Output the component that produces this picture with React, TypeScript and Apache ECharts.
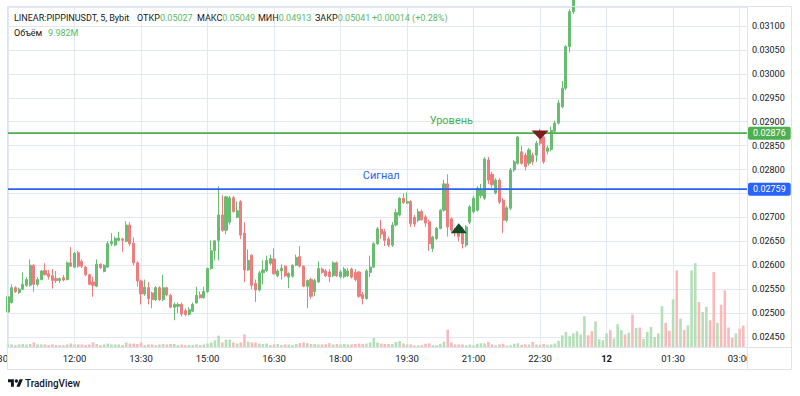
import React, { useEffect, useRef } from "react";
import * as echarts from "echarts";

// ---- data (5-minute candles from 10:30) ----
const opens = [
  0.02502, 0.02522, 0.02553, 0.02543, 0.02550, 0.02558, 0.02558, 0.02600, 0.02560, 0.02570,
  0.02589, 0.02582, 0.02578, 0.02572, 0.02568, 0.02574, 0.02570, 0.02605, 0.02596, 0.02626,
  0.02608, 0.02596, 0.02580, 0.02565, 0.02556, 0.02602, 0.02587, 0.02596, 0.02645, 0.02642,
  0.02652, 0.02655, 0.02650, 0.02684, 0.02646, 0.02605, 0.02567, 0.02540, 0.02553, 0.02542,
  0.02528, 0.02553, 0.02528, 0.02553, 0.02537, 0.02512, 0.02514, 0.02518, 0.02505, 0.02497,
  0.02504, 0.02521, 0.02538, 0.02532, 0.02545, 0.02593, 0.02630, 0.02652, 0.02705, 0.02673,
  0.02690, 0.02741, 0.02700, 0.02733, 0.02667, 0.02590, 0.02621, 0.02562, 0.02548, 0.02584,
  0.02589, 0.02604, 0.02613, 0.02578, 0.02588, 0.02598, 0.02575, 0.02577, 0.02600, 0.02618,
  0.02598, 0.02556, 0.02570, 0.02545, 0.02565, 0.02592, 0.02588, 0.02586, 0.02578, 0.02605,
  0.02576, 0.02576, 0.02578, 0.02592, 0.02585, 0.02586, 0.02539, 0.02530, 0.02585, 0.02596,
  0.02645, 0.02675, 0.02670, 0.02655, 0.02642, 0.02684, 0.02705, 0.02740, 0.02730, 0.02733,
  0.02700, 0.02694, 0.02712, 0.02701, 0.02691, 0.02635, 0.02656, 0.02677, 0.02715, 0.02770,
  0.02697, 0.02673, 0.02668, 0.02675, 0.02642, 0.02690, 0.02712, 0.02715, 0.02745, 0.02740,
  0.02820, 0.02790, 0.02751, 0.02778, 0.02736, 0.02694, 0.02719, 0.02799, 0.02813, 0.02837,
  0.02830, 0.02813, 0.02830, 0.02830, 0.02876, 0.02868, 0.02838, 0.02842, 0.02880, 0.02897,
  0.02931, 0.02970, 0.03057, 0.03130,
];
const closes = [
  0.02534, 0.02553, 0.02545, 0.02550, 0.02560, 0.02570, 0.02600, 0.02560, 0.02570, 0.02588,
  0.02580, 0.02576, 0.02568, 0.02568, 0.02572, 0.02569, 0.02605, 0.02598, 0.02625, 0.02598,
  0.02598, 0.02580, 0.02560, 0.02558, 0.02602, 0.02595, 0.02600, 0.02645, 0.02650, 0.02656,
  0.02657, 0.02652, 0.02684, 0.02645, 0.02605, 0.02567, 0.02540, 0.02554, 0.02530, 0.02528,
  0.02553, 0.02528, 0.02553, 0.02538, 0.02512, 0.02518, 0.02518, 0.02498, 0.02497, 0.02507,
  0.02518, 0.02537, 0.02532, 0.02545, 0.02593, 0.02630, 0.02651, 0.02705, 0.02673, 0.02743,
  0.02741, 0.02712, 0.02714, 0.02663, 0.02590, 0.02610, 0.02558, 0.02548, 0.02584, 0.02590,
  0.02610, 0.02614, 0.02582, 0.02588, 0.02594, 0.02578, 0.02583, 0.02600, 0.02616, 0.02598,
  0.02556, 0.02568, 0.02535, 0.02568, 0.02593, 0.02585, 0.02578, 0.02576, 0.02605, 0.02578,
  0.02586, 0.02592, 0.02588, 0.02575, 0.02570, 0.02535, 0.02530, 0.02588, 0.02596, 0.02645,
  0.02676, 0.02665, 0.02652, 0.02642, 0.02684, 0.02710, 0.02740, 0.02731, 0.02733, 0.02687,
  0.02686, 0.02712, 0.02695, 0.02688, 0.02645, 0.02659, 0.02677, 0.02715, 0.02770, 0.02680,
  0.02673, 0.02668, 0.02660, 0.02645, 0.02680, 0.02722, 0.02740, 0.02761, 0.02757, 0.02822,
  0.02778, 0.02768, 0.02778, 0.02732, 0.02694, 0.02720, 0.02799, 0.02816, 0.02868, 0.02813,
  0.02806, 0.02841, 0.02816, 0.02855, 0.02855, 0.02816, 0.02845, 0.02882, 0.02897, 0.02939,
  0.02970, 0.03057, 0.03130, 0.03160,
];
const highs = [
  0.02536, 0.02560, 0.02556, 0.02553, 0.02585, 0.02575, 0.02612, 0.02602, 0.02575, 0.02590,
  0.02604, 0.02590, 0.02592, 0.02588, 0.02574, 0.02580, 0.02608, 0.02638, 0.02628, 0.02630,
  0.02612, 0.02598, 0.02582, 0.02576, 0.02612, 0.02604, 0.02602, 0.02650, 0.02667, 0.02660,
  0.02670, 0.02657, 0.02692, 0.02690, 0.02658, 0.02608, 0.02570, 0.02570, 0.02565, 0.02545,
  0.02556, 0.02556, 0.02580, 0.02555, 0.02540, 0.02522, 0.02522, 0.02522, 0.02510, 0.02512,
  0.02522, 0.02555, 0.02545, 0.02555, 0.02595, 0.02652, 0.02652, 0.02765, 0.02746, 0.02745,
  0.02745, 0.02745, 0.02733, 0.02736, 0.02690, 0.02633, 0.02622, 0.02570, 0.02588, 0.02610,
  0.02620, 0.02622, 0.02635, 0.02592, 0.02602, 0.02600, 0.02585, 0.02602, 0.02622, 0.02640,
  0.02600, 0.02570, 0.02574, 0.02572, 0.02608, 0.02595, 0.02592, 0.02592, 0.02608, 0.02608,
  0.02590, 0.02596, 0.02594, 0.02595, 0.02592, 0.02588, 0.02544, 0.02592, 0.02620, 0.02648,
  0.02680, 0.02695, 0.02676, 0.02660, 0.02690, 0.02718, 0.02742, 0.02750, 0.02752, 0.02736,
  0.02705, 0.02718, 0.02716, 0.02705, 0.02695, 0.02662, 0.02680, 0.02717, 0.02778, 0.02790,
  0.02700, 0.02678, 0.02675, 0.02680, 0.02684, 0.02726, 0.02745, 0.02765, 0.02770, 0.02826,
  0.02826, 0.02795, 0.02782, 0.02782, 0.02740, 0.02724, 0.02803, 0.02820, 0.02870, 0.02850,
  0.02835, 0.02845, 0.02835, 0.02860, 0.02885, 0.02880, 0.02850, 0.02890, 0.02902, 0.02945,
  0.02985, 0.03060, 0.03135, 0.03175,
];
const lows = [
  0.02499, 0.02520, 0.02542, 0.02540, 0.02548, 0.02555, 0.02555, 0.02545, 0.02556, 0.02568,
  0.02578, 0.02570, 0.02551, 0.02563, 0.02563, 0.02566, 0.02568, 0.02596, 0.02594, 0.02595,
  0.02594, 0.02577, 0.02558, 0.02534, 0.02554, 0.02592, 0.02585, 0.02594, 0.02640, 0.02640,
  0.02650, 0.02628, 0.02648, 0.02640, 0.02600, 0.02555, 0.02518, 0.02536, 0.02518, 0.02510,
  0.02525, 0.02525, 0.02525, 0.02535, 0.02510, 0.02485, 0.02500, 0.02493, 0.02493, 0.02495,
  0.02502, 0.02520, 0.02530, 0.02530, 0.02542, 0.02590, 0.02610, 0.02610, 0.02670, 0.02665,
  0.02685, 0.02710, 0.02698, 0.02655, 0.02565, 0.02588, 0.02550, 0.02523, 0.02545, 0.02560,
  0.02586, 0.02600, 0.02580, 0.02575, 0.02570, 0.02575, 0.02552, 0.02574, 0.02598, 0.02595,
  0.02554, 0.02510, 0.02530, 0.02535, 0.02563, 0.02582, 0.02575, 0.02565, 0.02575, 0.02575,
  0.02572, 0.02573, 0.02575, 0.02572, 0.02566, 0.02532, 0.02518, 0.02528, 0.02575, 0.02594,
  0.02642, 0.02655, 0.02640, 0.02638, 0.02638, 0.02681, 0.02702, 0.02728, 0.02728, 0.02680,
  0.02680, 0.02690, 0.02694, 0.02680, 0.02630, 0.02628, 0.02652, 0.02675, 0.02712, 0.02660,
  0.02668, 0.02660, 0.02650, 0.02635, 0.02638, 0.02686, 0.02708, 0.02712, 0.02740, 0.02736,
  0.02770, 0.02762, 0.02748, 0.02728, 0.02667, 0.02690, 0.02715, 0.02795, 0.02810, 0.02810,
  0.02798, 0.02808, 0.02810, 0.02816, 0.02850, 0.02812, 0.02832, 0.02838, 0.02876, 0.02894,
  0.02928, 0.02966, 0.03045, 0.03125,
];
// volume in millions, one per 5-minute bar (10:30 .. 03:05)
const volumes = [
  1.4, 1.4, 1.1, 1.4, 1.6, 1.4, 1.6, 2.3, 1.4, 1.4,
  1.4, 1.1, 1.4, 1.1, 1.1, 1.1, 1.4, 1.8, 1.4, 1.4,
  1.4, 1.1, 1.4, 2.3, 1.6, 1.1, 1.4, 1.8, 1.4, 1.4,
  1.4, 1.1, 2.3, 1.8, 1.8, 1.6, 2.3, 1.1, 1.4, 1.4,
  1.1, 1.4, 1.6, 1.4, 1.6, 1.6, 1.1, 1.4, 1.1, 1.1,
  1.1, 1.4, 1.1, 1.4, 1.8, 2.3, 3.2, 5.4, 2.3, 3.6,
  3.6, 2.3, 1.8, 2.3, 6.0, 2.7, 2.3, 2.3, 1.8, 1.6,
  1.8, 1.1, 1.4, 1.6, 1.1, 1.4, 1.4, 1.1, 1.6, 2.0,
  2.3, 2.0, 1.6, 1.6, 1.4, 1.4, 1.4, 2.0, 1.4, 1.6,
  1.4, 1.6, 1.4, 1.4, 1.6, 1.8, 1.6, 1.8, 2.3, 4.3,
  2.3, 1.8, 1.6, 1.6, 1.6, 2.5, 2.9, 1.8, 1.4, 1.4,
  0.9, 1.0, 1.0, 1.7, 1.9, 1.0, 1.0, 1.7, 2.6, 8.1,
  2.3, 1.4, 1.4, 1.4, 1.0, 1.4, 1.0, 1.7, 1.9, 1.9,
  2.6, 1.4, 1.0, 1.4, 1.7, 0.9, 1.0, 1.7, 1.9, 1.2,
  1.4, 1.4, 2.6, 1.4, 1.2, 1.6, 1.2, 1.4, 1.8, 3.0,
  5.5, 7.1, 5.1, 6.4, 7.4, 5.9, 14.2, 5.6, 7.4, 11.9,
  3.8, 3.3, 6.4, 7.9, 4.1, 10.6, 7.9, 5.9, 6.7, 15.0,
  8.9, 9.1, 3.9, 7.1, 9.4, 4.8, 6.4, 18.8, 11.2, 7.6,
  21.9, 35.1, 13.2, 7.9, 10.1, 35.1, 38.4, 20.7, 16.2, 18.5,
  12.4, 34.4, 11.2, 19.5, 26.0, 9.1, 4.4, 6.4, 8.6, 9.982,
];
// direction of the volume bars whose candles are above the visible price range (bars 154..199)
const tailDirections = ("uuudduuuud" + "uuudududuu" + "uuuuddudud" + "uuuduuddud" + "dddudd").split("");

const levelPrice = 0.02876; // "Уровень"
const signalPrice = 0.02759; // "Сигнал"
const buySignal = { index: 122, price: 0.02677 };
const sellSignal = { index: 144, price: 0.02872 };
const levelLabelAt = 120;
const signalLabelAt = 101;

const priceMin = 0.02428;
const priceMax = 0.031397;
const volumeMax = 155;
const hiddenPriceTicks = [0.0275]; // covered by the "Сигнал" price tag

const startMinutes = 10 * 60 + 30;
const barCount = 201;
const labelEvery = 18;

// header groups: [label, value] pairs
const headerLine1 = [
  { label: "LINEAR:PIPPINUSDT, 5, Bybit", value: "", x: 14 },
  { label: "ОТКР", value: "0.05027", x: 137 },
  { label: "МАКС", value: "0.05049", x: 197 },
  { label: "МИН", value: "0.04913", x: 258 },
  { label: "ЗАКР", value: "0.05041", x: 315 },
  { label: "", value: "+0.00014 (+0.28%)", x: 372 },
];
const headerLine2 = [
  { label: "Объём", value: "", x: 14 },
  { label: "", value: "9.982M", x: 48 },
];

const FONT = "Roboto, 'Noto Sans', sans-serif";
const TEXT = "#131722";
const GREEN_TXT = "#5cb765";
const UP = "#69bd71";
const DOWN = "#ee7d7d";
const VOL_UP = "#b5dfb7";
const VOL_DOWN = "#f8baba";
const GRID = "#e1e8f4";
const FRAME = "#dfe3eb";
const LEVEL = "#4caf50";
const SIGNAL = "#2962ff";

const pad = (n: number) => (n < 10 ? "0" + n : "" + n);
const times = Array.from({ length: barCount }, (_, i) => {
  const m = (startMinutes + 5 * i) % 1440;
  return pad(Math.floor(m / 60)) + ":" + pad(m % 60);
});

let shapeRegistered = false;
function registerLogo() {
  if (shapeRegistered) return;
  const cls = (echarts as any).graphic.extendPath(
    "M14 22H7V11H0V4h14v18z M28 22h-8l7.5-18h8L28 22z",
    {}
  );
  (echarts as any).graphic.registerShape("tvlogo", cls);
  shapeRegistered = true;
}

function levelSeries(price: number, color: string) {
  return {
    type: "line",
    yAxisIndex: 0,
    data: [
      [0, price],
      [barCount - 1, price],
    ],
    symbol: "none",
    silent: true,
    z: 4,
    lineStyle: { color, width: 1.6, type: "solid" },
    endLabel: {
      show: true,
      distance: 1,
      formatter: () => price.toFixed(5),
      color: "#ffffff",
      backgroundColor: color,
      padding: [2, 5, 2, 5],
      borderRadius: 2,
      fontSize: 9,
      fontFamily: FONT,
    },
  };
}

const headerText = (h: { label: string; value: string; x: number }, y: number) => {
  const parts: string[] = [];
  if (h.label) parts.push(`{a|${h.label}}`);
  if (h.value) parts.push(`{g|${h.value}}`);
  return {
    type: "text",
    z: 102,
    silent: true,
    x: h.x,
    y,
    style: {
      text: parts.join(""),
      font: `9px ${FONT}`,
      verticalAlign: "middle",
      rich: {
        a: { fill: TEXT, font: `9px ${FONT}` },
        g: { fill: GREEN_TXT, font: `9px ${FONT}` },
      },
    },
  };
};

export default function App() {
  const ref = useRef<HTMLDivElement>(null);

  useEffect(() => {
    if (!ref.current) return;
    registerLogo();
    const chart = echarts.init(ref.current, undefined, { renderer: "svg" });

    const candleData = opens.map((o, i) => [o, closes[i], lows[i], highs[i]]);
    const volumeData = volumes.map((v, i) => {
      let up: boolean;
      if (i < opens.length) up = closes[i] >= opens[i];
      else up = tailDirections[i - opens.length] === "u";
      return { value: v, itemStyle: { color: up ? VOL_UP : VOL_DOWN } };
    });

    const categoryData = times.map((t, i) =>
      i === 0 ? { value: t, textStyle: { align: "right" } } : t
    );

    const logoScale = 0.42;
    const logoX = 8;
    const logoY = 377.6;

    const option: any = {
      animation: false,
      backgroundColor: "#ffffff",
      textStyle: { fontFamily: FONT },
      grid: {
        left: 8,
        right: 53,
        top: 7,
        bottom: 48.5,
        containLabel: false,
        outerBoundsMode: "none",
      },
      xAxis: {
        type: "category",
        data: categoryData,
        boundaryGap: false,
        axisLine: { show: false },
        axisTick: { show: false },
        axisLabel: {
          interval: (i: number) => i % labelEvery === 0,
          color: TEXT,
          fontSize: 9.5,
          fontFamily: FONT,
          margin: 6,
          hideOverlap: false,
          formatter: (v: string) => (v === "00:00" ? "{b|12}" : v),
          rich: { b: { fontWeight: "bold", fontSize: 9.5, color: TEXT, fontFamily: FONT } },
        },
        splitLine: {
          show: true,
          interval: (i: number) => i % labelEvery === 0,
          lineStyle: { color: GRID, width: 1 },
        },
      },
      yAxis: [
        {
          type: "value",
          position: "right",
          min: priceMin,
          max: priceMax,
          splitNumber: 14,
          axisLine: { show: false },
          axisTick: { show: false },
          axisLabel: {
            color: TEXT,
            fontSize: 9,
            fontFamily: FONT,
            margin: 5,
            showMinLabel: false,
            showMaxLabel: false,
            formatter: (v: number) =>
              hiddenPriceTicks.some((h) => Math.abs(h - v) < 1e-7) ? "" : v.toFixed(5),
          },
          splitLine: { show: true, lineStyle: { color: GRID, width: 1 } },
        },
        {
          type: "value",
          position: "left",
          min: 0,
          max: volumeMax,
          show: false,
          splitLine: { show: false },
        },
      ],
      series: [
        {
          type: "bar",
          yAxisIndex: 1,
          data: volumeData,
          barWidth: 2.6,
          silent: true,
          z: 1,
        },
        {
          type: "candlestick",
          yAxisIndex: 0,
          data: candleData,
          barWidth: 2.6,
          clip: true,
          z: 3,
          itemStyle: {
            color: UP,
            color0: DOWN,
            borderColor: UP,
            borderColor0: DOWN,
            borderWidth: 1,
          },
          markPoint: {
            silent: true,
            animation: false,
            z: 6,
            data: [
              {
                coord: [levelLabelAt, levelPrice],
                symbol: "circle",
                symbolSize: 0,
                label: {
                  show: true,
                  position: "top",
                  distance: 7,
                  formatter: "Уровень",
                  color: LEVEL,
                  fontSize: 11,
                  fontFamily: FONT,
                },
              },
              {
                coord: [signalLabelAt, signalPrice],
                symbol: "circle",
                symbolSize: 0,
                label: {
                  show: true,
                  position: "top",
                  distance: 8,
                  formatter: "Сигнал",
                  color: SIGNAL,
                  fontSize: 11,
                  fontFamily: FONT,
                },
              },
              {
                coord: [buySignal.index, buySignal.price],
                symbol: "triangle",
                symbolSize: [16, 10],
                itemStyle: { color: "#0f4d22" },
                label: { show: false },
              },
              {
                coord: [sellSignal.index, sellSignal.price],
                symbol: "triangle",
                symbolRotate: 180,
                symbolSize: [17, 9],
                itemStyle: { color: "#7a1d1d" },
                label: { show: false },
              },
            ],
          },
        },
        levelSeries(levelPrice, LEVEL),
        levelSeries(signalPrice, SIGNAL),
      ],
      graphic: [
        // cover for the clipped time label under the price scale
        {
          type: "rect",
          z: 100,
          silent: true,
          shape: { x: 747.5, y: 348, width: 44, height: 21 },
          style: { fill: "#ffffff" },
        },
        // frame
        {
          type: "rect",
          z: 101,
          silent: true,
          shape: { x: 7.5, y: 6.5, width: 784, height: 363 },
          style: { fill: "none", stroke: FRAME, lineWidth: 1 },
        },
        {
          type: "line",
          z: 101,
          silent: true,
          shape: { x1: 747.5, y1: 6.5, x2: 747.5, y2: 369.5 },
          style: { stroke: FRAME, lineWidth: 1 },
        },
        {
          type: "line",
          z: 101,
          silent: true,
          shape: { x1: 7.5, y1: 347.5, x2: 791.5, y2: 347.5 },
          style: { stroke: FRAME, lineWidth: 1 },
        },
        // header
        ...headerLine1.map((h) => headerText(h, 18)),
        ...headerLine2.map((h) => headerText(h, 33)),
        // TradingView logo
        {
          type: "tvlogo",
          z: 102,
          silent: true,
          x: logoX,
          y: logoY,
          scaleX: logoScale,
          scaleY: logoScale,
          style: { fill: TEXT },
        },
        {
          type: "circle",
          z: 102,
          silent: true,
          shape: { cx: logoX + 20 * logoScale, cy: logoY + 8 * logoScale, r: 4 * logoScale },
          style: { fill: TEXT },
        },
        {
          type: "text",
          z: 102,
          silent: true,
          x: 25,
          y: 383,
          scaleX: 0.9,
          style: {
            text: "TradingView",
            fill: TEXT,
            font: `500 11px ${FONT}`,
            verticalAlign: "middle",
          },
        },
      ],
    };

    chart.setOption(option);
    return () => chart.dispose();
  }, []);

  return (
    <div
      ref={ref}
      style={{ position: "fixed", left: 0, top: 0, width: 800, height: 396, background: "#fff" }}
    />
  );
}
